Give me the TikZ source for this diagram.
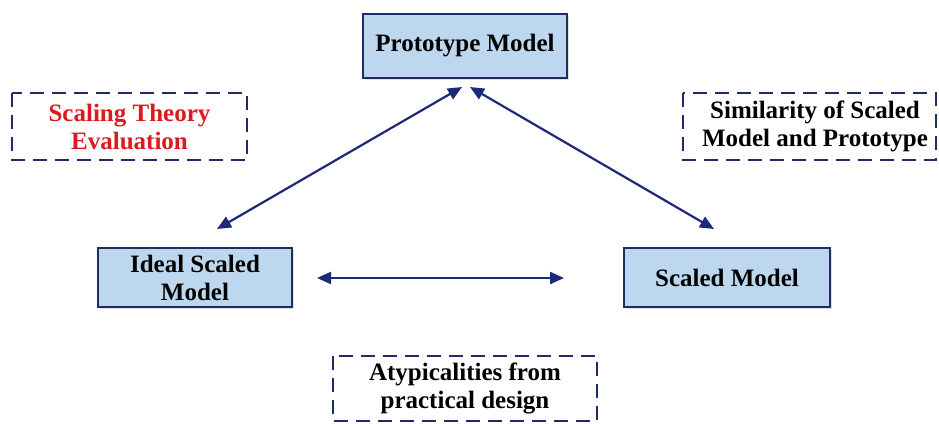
\documentclass[tikz,border=0pt]{standalone}
\usepackage{fontspec}
\setmainfont{Liberation Serif}
\usetikzlibrary{arrows.meta,shadows}
\definecolor{boxfill}{RGB}{189,215,238}
\definecolor{navy}{RGB}{31,45,100}
\definecolor{arrowc}{RGB}{30,40,120}
\definecolor{redtxt}{RGB}{220,25,30}
\tikzset{
  solidbox/.style={draw=navy, line width=2.4pt, fill=boxfill, drop shadow={shadow xshift=1.5pt, shadow yshift=-1.5pt, opacity=0.25}},
  dashbox/.style={draw=navy, line width=2.6pt, dash pattern=on 14pt off 8pt},
  lbl/.style={font=\fontsize{25}{28}\selectfont\bfseries, align=center, inner sep=0pt},
  conn/.style={draw=arrowc, line width=2.2pt, {Triangle[length=14pt,width=12pt]}-{Triangle[length=14pt,width=12pt]}}
}
\begin{document}
\begin{tikzpicture}[x=1pt,y=-1pt]
\useasboundingbox (0,0) rectangle (939,423);
% solid boxes
\path[solidbox] (363,14) rectangle (567,78);
\node[lbl] (proto) at (465,46) {Prototype Model};
\coordinate (protoA) at (462,87);
\coordinate (protoB) at (470,87);
\path[solidbox] (98,248) rectangle (292,307);
\node[lbl] (ideal) at (195,277.5) {Ideal Scaled\\Model};
\path[solidbox] (624,248) rectangle (830,307);
\node[lbl] (scaled) at (727,277.5) {Scaled Model};
% dashed boxes
\draw[dashbox] (12,93) rectangle (247,160);
\node[lbl, text=redtxt] (sct) at (129.5,126.5) {Scaling Theory\\Evaluation};
\draw[dashbox] (683,93) rectangle (936,160);
\node[lbl] (sim) at (815,126.5) {Similarity of Scaled\\Model and Prototype};
\draw[dashbox] (333,356) rectangle (597,421);
\node[lbl] (aty) at (465,388) {Atypicalities from\\practical design};
% connectors
\coordinate (idealT) at (217,229);
\coordinate (scaledT) at (714,229);
\coordinate (hl) at (317,278);
\coordinate (hr) at (564,278);
\draw[conn] (idealT) -- (protoA);
\draw[conn] (protoB) -- (scaledT);
\draw[conn] (hl) -- (hr);
\end{tikzpicture}
\end{document}
